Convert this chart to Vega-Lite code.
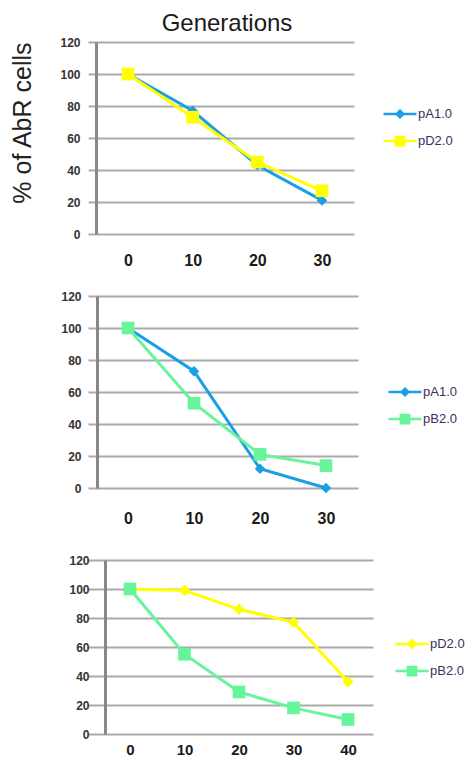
{
  "$schema": "https://vega.github.io/schema/vega-lite/v6.json",
  "padding": {"left": 10, "top": 12, "right": 0, "bottom": 0},
  "background": "white",
  "datasets": {
    "d": [
      {"panel": 1, "series": "pA1.0", "gen": 0, "pct": 100},
      {"panel": 1, "series": "pA1.0", "gen": 10, "pct": 77},
      {"panel": 1, "series": "pA1.0", "gen": 20, "pct": 43},
      {"panel": 1, "series": "pA1.0", "gen": 30, "pct": 21},
      {"panel": 1, "series": "pD2.0", "gen": 0, "pct": 100},
      {"panel": 1, "series": "pD2.0", "gen": 10, "pct": 73},
      {"panel": 1, "series": "pD2.0", "gen": 20, "pct": 45},
      {"panel": 1, "series": "pD2.0", "gen": 30, "pct": 27},
      {"panel": 2, "series": "pA1.0", "gen": 0, "pct": 100},
      {"panel": 2, "series": "pA1.0", "gen": 10, "pct": 73},
      {"panel": 2, "series": "pA1.0", "gen": 20, "pct": 12},
      {"panel": 2, "series": "pA1.0", "gen": 30, "pct": 0},
      {"panel": 2, "series": "pB2.0", "gen": 0, "pct": 100},
      {"panel": 2, "series": "pB2.0", "gen": 10, "pct": 53},
      {"panel": 2, "series": "pB2.0", "gen": 20, "pct": 21},
      {"panel": 2, "series": "pB2.0", "gen": 30, "pct": 14},
      {"panel": 3, "series": "pD2.0", "gen": 0, "pct": 100},
      {"panel": 3, "series": "pD2.0", "gen": 10, "pct": 99},
      {"panel": 3, "series": "pD2.0", "gen": 20, "pct": 86},
      {"panel": 3, "series": "pD2.0", "gen": 30, "pct": 77},
      {"panel": 3, "series": "pD2.0", "gen": 40, "pct": 36},
      {"panel": 3, "series": "pB2.0", "gen": 0, "pct": 100},
      {"panel": 3, "series": "pB2.0", "gen": 10, "pct": 55},
      {"panel": 3, "series": "pB2.0", "gen": 20, "pct": 29},
      {"panel": 3, "series": "pB2.0", "gen": 30, "pct": 18},
      {"panel": 3, "series": "pB2.0", "gen": 40, "pct": 10}
    ]
  },
  "config": {
    "view": {"stroke": null},
    "axis": {"labelFont": "Liberation Sans", "titleFont": "Liberation Sans"},
    "legend": {"labelFont": "Liberation Sans"}
  },
  "spacing": 22,
  "resolve": {
    "scale": {"x": "independent", "y": "independent", "color": "independent", "fill": "independent", "stroke": "independent", "shape": "independent"},
    "legend": {"color": "independent", "fill": "independent", "stroke": "independent", "shape": "independent"}
  },
  "vconcat": [
    {
      "width": 266,
      "height": 192,
      "data": {"name": "d"},
      "transform": [{"filter": "datum.panel === 1"}],
      "title": {"text": "Generations", "fontSize": 24, "font": "Liberation Sans", "fontWeight": "normal", "color": "#1a1a1a", "offset": 0, "frame": "group", "dx": 6},
      "resolve": {"scale": {"fill": "independent", "stroke": "independent", "shape": "independent"}, "legend": {"fill": "independent", "stroke": "independent", "shape": "independent"}},
      "encoding": {
        "x": {"field": "gen", "type": "quantitative", "scale": {"domain": [-6.19, 34.95], "nice": false, "zero": false},
          "axis": {"values": [0, 10, 20, 30], "grid": false, "domain": false, "ticks": false, "tickSize": 0, "labelPadding": 18, "title": null, "labelFontSize": 16, "labelFontWeight": "bold", "labelColor": "#1a1a1a"}},
        "y": {"field": "pct", "type": "quantitative", "scale": {"domain": [0, 120], "nice": false},
          "axis": {"values": [0, 20, 40, 60, 80, 100, 120], "offset": -8, "grid": true, "gridColor": "#aaaaaa", "gridWidth": 2, "domainColor": "#888888", "domainWidth": 3, "ticks": false, "tickSize": 0, "labelPadding": 16, "labelFontSize": 12, "labelFontWeight": "bold", "labelColor": "#333333",
            "title": "% of AbR cells", "titleFontSize": 25, "titleFontWeight": "normal", "titleColor": "#222222", "titleAnchor": "end", "titlePadding": 24}}
      },
      "layer": [
        {"mark": {"type": "line", "strokeWidth": 3},
          "encoding": {"color": {"field": "series", "type": "nominal", "scale": {"domain": ["pA1.0", "pD2.0"], "range": ["#1a9fe6", "#ffff00"]}, "legend": null}}},
        {"transform": [{"filter": "datum.series === 'pA1.0'"}],
          "mark": {"type": "point", "filled": true, "opacity": 1, "shape": "diamond", "size": 110},
          "encoding": {"color": {"field": "series", "type": "nominal", "scale": {"domain": ["pA1.0", "pD2.0"], "range": ["#1a9fe6", "#ffff00"]}, "legend": null}}},
        {"transform": [{"filter": "datum.series === 'pD2.0'"}],
          "mark": {"type": "point", "filled": true, "opacity": 1, "shape": "square", "size": 160},
          "encoding": {"color": {"field": "series", "type": "nominal", "scale": {"domain": ["pA1.0", "pD2.0"], "range": ["#1a9fe6", "#ffff00"]}, "legend": null}}},
        {"transform": [{"filter": "false"}],
          "mark": {"type": "point", "filled": true, "opacity": 1, "strokeWidth": 2.5, "size": 1089},
          "encoding": {
            "fill": {"field": "series", "type": "nominal", "scale": {"domain": ["pA1.0", "pD2.0"], "range": ["#1a9fe6", "#ffff00"]},
              "legend": {"title": null, "orient": "none", "legendX": 294, "legendY": 54, "symbolSize": 1089, "symbolStrokeWidth": 2.5, "labelFontSize": 13, "labelColor": "#3a3060", "labelOffset": 0, "rowPadding": 0}},
            "stroke": {"field": "series", "type": "nominal", "scale": {"domain": ["pA1.0", "pD2.0"], "range": ["#1a9fe6", "#ffff00"]},
              "legend": {"title": null, "orient": "none", "legendX": 294, "legendY": 54, "symbolSize": 1089, "symbolStrokeWidth": 2.5, "labelFontSize": 13, "labelColor": "#3a3060", "labelOffset": 0, "rowPadding": 0}},
            "shape": {"field": "series", "type": "nominal", "scale": {"domain": ["pA1.0", "pD2.0"], "range": ["M-1,0H1M0,-0.2L0.2,0L0,0.2L-0.2,0Z", "M-1,0H1M-0.25,-0.25H0.25V0.25H-0.25Z"]},
              "legend": {"title": null, "orient": "none", "legendX": 294, "legendY": 54, "symbolSize": 1089, "symbolStrokeWidth": 2.5, "labelFontSize": 13, "labelColor": "#3a3060", "labelOffset": 0, "rowPadding": 0}}
          }}
      ]
    },
    {
      "spacing": 28,
      "resolve": {
        "scale": {"x": "independent", "y": "independent", "color": "independent", "fill": "independent", "stroke": "independent", "shape": "independent"},
        "legend": {"color": "independent", "fill": "independent", "stroke": "independent", "shape": "independent"}
      },
      "vconcat": [
        {
          "width": 270,
          "height": 192,
          "data": {"name": "d"},
          "transform": [{"filter": "datum.panel === 2"}],
          "resolve": {"scale": {"fill": "independent", "stroke": "independent", "shape": "independent"}, "legend": {"fill": "independent", "stroke": "independent", "shape": "independent"}},
          "encoding": {
            "x": {"field": "gen", "type": "quantitative", "scale": {"domain": [-6.06, 34.85], "nice": false, "zero": false},
              "axis": {"values": [0, 10, 20, 30], "grid": false, "domain": false, "ticks": false, "tickSize": 0, "labelPadding": 22, "title": null, "labelFontSize": 16, "labelFontWeight": "bold", "labelColor": "#1a1a1a"}},
            "y": {"field": "pct", "type": "quantitative", "scale": {"domain": [0, 120], "nice": false},
              "axis": {"values": [0, 20, 40, 60, 80, 100, 120], "offset": -9, "grid": true, "gridColor": "#aaaaaa", "gridWidth": 2, "domainColor": "#888888", "domainWidth": 3, "ticks": false, "tickSize": 0, "labelPadding": 16, "labelFontSize": 12, "labelFontWeight": "bold", "labelColor": "#333333", "title": null}}
          },
          "layer": [
            {"mark": {"type": "line", "strokeWidth": 3},
              "encoding": {"color": {"field": "series", "type": "nominal", "scale": {"domain": ["pA1.0", "pB2.0"], "range": ["#1a9fe6", "#66f59a"]}, "legend": null}}},
            {"transform": [{"filter": "datum.series === 'pA1.0'"}],
              "mark": {"type": "point", "filled": true, "opacity": 1, "shape": "diamond", "size": 110},
              "encoding": {"color": {"field": "series", "type": "nominal", "scale": {"domain": ["pA1.0", "pB2.0"], "range": ["#1a9fe6", "#66f59a"]}, "legend": null}}},
            {"transform": [{"filter": "datum.series === 'pB2.0'"}],
              "mark": {"type": "point", "filled": true, "opacity": 1, "shape": "square", "size": 160},
              "encoding": {"color": {"field": "series", "type": "nominal", "scale": {"domain": ["pA1.0", "pB2.0"], "range": ["#1a9fe6", "#66f59a"]}, "legend": null}}},
            {"transform": [{"filter": "false"}],
              "mark": {"type": "point", "filled": true, "opacity": 1, "strokeWidth": 2.5, "size": 1089},
              "encoding": {
                "fill": {"field": "series", "type": "nominal", "scale": {"domain": ["pA1.0", "pB2.0"], "range": ["#1a9fe6", "#66f59a"]},
                  "legend": {"title": null, "orient": "none", "legendX": 299, "legendY": 78, "symbolSize": 1089, "symbolStrokeWidth": 2.5, "labelFontSize": 13, "labelColor": "#3a3060", "labelOffset": 0, "rowPadding": -2}},
                "stroke": {"field": "series", "type": "nominal", "scale": {"domain": ["pA1.0", "pB2.0"], "range": ["#1a9fe6", "#66f59a"]},
                  "legend": {"title": null, "orient": "none", "legendX": 299, "legendY": 78, "symbolSize": 1089, "symbolStrokeWidth": 2.5, "labelFontSize": 13, "labelColor": "#3a3060", "labelOffset": 0, "rowPadding": -2}},
                "shape": {"field": "series", "type": "nominal", "scale": {"domain": ["pA1.0", "pB2.0"], "range": ["M-1,0H1M0,-0.2L0.2,0L0,0.2L-0.2,0Z", "M-1,0H1M-0.25,-0.25H0.25V0.25H-0.25Z"]},
                  "legend": {"title": null, "orient": "none", "legendX": 299, "legendY": 78, "symbolSize": 1089, "symbolStrokeWidth": 2.5, "labelFontSize": 13, "labelColor": "#3a3060", "labelOffset": 0, "rowPadding": -2}}
              }}
          ]
        },
        {
          "width": 285,
          "height": 174,
          "data": {"name": "d"},
          "transform": [{"filter": "datum.panel === 3"}],
          "resolve": {"scale": {"fill": "independent", "stroke": "independent", "shape": "independent"}, "legend": {"fill": "independent", "stroke": "independent", "shape": "independent"}},
          "encoding": {
            "x": {"field": "gen", "type": "quantitative", "scale": {"domain": [-7.71, 44.59], "nice": false, "zero": false},
              "axis": {"values": [0, 10, 20, 30, 40], "grid": false, "domain": false, "ticks": false, "tickSize": 0, "labelPadding": 8, "title": null, "labelFontSize": 15, "labelFontWeight": "bold", "labelColor": "#1a1a1a"}},
            "y": {"field": "pct", "type": "quantitative", "scale": {"domain": [0, 120], "nice": false},
              "axis": {"values": [0, 20, 40, 60, 80, 100, 120], "offset": -17, "grid": true, "gridColor": "#aaaaaa", "gridWidth": 2, "domainColor": "#888888", "domainWidth": 3, "ticks": false, "tickSize": 0, "labelPadding": 16, "labelFontSize": 12, "labelFontWeight": "bold", "labelColor": "#333333", "title": null}}
          },
          "layer": [
            {"mark": {"type": "line", "strokeWidth": 3},
              "encoding": {"color": {"field": "series", "type": "nominal", "scale": {"domain": ["pD2.0", "pB2.0"], "range": ["#ffff00", "#66f59a"]}, "legend": null}}},
            {"transform": [{"filter": "datum.series === 'pD2.0'"}],
              "mark": {"type": "point", "filled": true, "opacity": 1, "shape": "diamond", "size": 130},
              "encoding": {"color": {"field": "series", "type": "nominal", "scale": {"domain": ["pD2.0", "pB2.0"], "range": ["#ffff00", "#66f59a"]}, "legend": null}}},
            {"transform": [{"filter": "datum.series === 'pB2.0'"}],
              "mark": {"type": "point", "filled": true, "opacity": 1, "shape": "square", "size": 160},
              "encoding": {"color": {"field": "series", "type": "nominal", "scale": {"domain": ["pD2.0", "pB2.0"], "range": ["#ffff00", "#66f59a"]}, "legend": null}}},
            {"transform": [{"filter": "false"}],
              "mark": {"type": "point", "filled": true, "opacity": 1, "strokeWidth": 2.5, "size": 1089},
              "encoding": {
                "fill": {"field": "series", "type": "nominal", "scale": {"domain": ["pD2.0", "pB2.0"], "range": ["#ffff00", "#66f59a"]},
                  "legend": {"title": null, "orient": "none", "legendX": 306, "legendY": 66, "symbolSize": 1089, "symbolStrokeWidth": 2.5, "labelFontSize": 13, "labelColor": "#3a3060", "labelOffset": 0, "rowPadding": -1}},
                "stroke": {"field": "series", "type": "nominal", "scale": {"domain": ["pD2.0", "pB2.0"], "range": ["#ffff00", "#66f59a"]},
                  "legend": {"title": null, "orient": "none", "legendX": 306, "legendY": 66, "symbolSize": 1089, "symbolStrokeWidth": 2.5, "labelFontSize": 13, "labelColor": "#3a3060", "labelOffset": 0, "rowPadding": -1}},
                "shape": {"field": "series", "type": "nominal", "scale": {"domain": ["pD2.0", "pB2.0"], "range": ["M-1,0H1M0,-0.22L0.22,0L0,0.22L-0.22,0Z", "M-1,0H1M-0.25,-0.25H0.25V0.25H-0.25Z"]},
                  "legend": {"title": null, "orient": "none", "legendX": 306, "legendY": 66, "symbolSize": 1089, "symbolStrokeWidth": 2.5, "labelFontSize": 13, "labelColor": "#3a3060", "labelOffset": 0, "rowPadding": -1}}
              }}
          ]
        }
      ]
    }
  ]
}
